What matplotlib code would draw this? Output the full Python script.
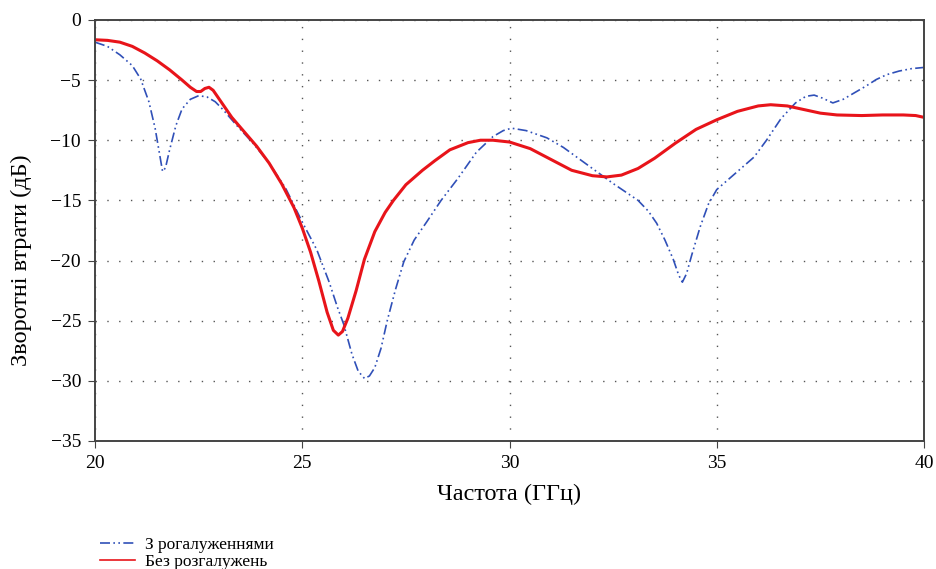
import matplotlib.pyplot as plt

plt.rcParams['font.family'] = ['Liberation Serif', 'DejaVu Serif']

# З рогалуженнями (blue, dash-dot-dot)
freq_a = [20.0, 20.3, 20.6, 20.9, 21.1, 21.3, 21.45, 21.55, 21.63, 21.7, 21.8, 21.95,
          22.1, 22.3, 22.5, 22.7, 22.9, 23.1, 23.4, 23.8, 24.2, 24.6, 25.0, 25.35,
          25.65, 25.85, 26.0, 26.2, 26.35, 26.5, 26.62, 26.75, 26.9, 27.05, 27.25, 27.45,
          27.7, 28.0, 28.35, 28.75, 29.2, 29.6, 29.85, 30.05, 30.4, 30.9, 31.3, 31.7,
          32.1, 32.5, 32.8, 33.1, 33.35, 33.55, 33.75, 33.95, 34.08, 34.17, 34.27, 34.4,
          34.6, 34.8, 35.0, 35.4, 35.9, 36.2, 36.55, 36.9, 37.15, 37.35, 37.55, 37.8,
          38.05, 38.3, 38.6, 38.85, 39.1, 39.4, 39.7, 40.0]
s11_a = [-1.85, -2.2, -2.9, -3.8, -4.9, -6.8, -9.0, -11.0, -12.6, -12.3, -10.8, -8.8,
         -7.4, -6.6, -6.3, -6.4, -6.8, -7.5, -8.7, -10.2, -11.9, -14.0, -16.8, -19.1,
         -21.8, -23.9, -25.3, -27.8, -29.2, -29.8, -29.6, -28.9, -27.3, -25.0, -22.4, -20.1,
         -18.3, -16.8, -15.0, -13.2, -11.0, -9.7, -9.2, -9.0, -9.2, -9.8, -10.6, -11.6,
         -12.6, -13.6, -14.3, -15.0, -15.9, -16.9, -18.3, -19.9, -21.2, -21.8, -21.1, -19.5,
         -17.2, -15.3, -14.1, -12.9, -11.4, -10.0, -8.2, -6.9, -6.35, -6.25, -6.5, -6.9,
         -6.6, -6.1, -5.5, -4.95, -4.55, -4.25, -4.05, -3.95]

# Без розгалужень (red, solid)
freq_b = [20.0, 20.3, 20.6, 20.9, 21.2, 21.5, 21.8, 22.1, 22.3, 22.45, 22.55, 22.65,
          22.75, 22.85, 23.0, 23.3, 23.6, 23.9, 24.2, 24.5, 24.8, 25.0, 25.2, 25.4,
          25.6, 25.75, 25.87, 25.97, 26.1, 26.3, 26.5, 26.75, 27.0, 27.2, 27.5, 27.9,
          28.2, 28.56, 29.0, 29.3, 29.6, 30.0, 30.5, 31.0, 31.5, 32.0, 32.35, 32.7,
          33.1, 33.5, 34.0, 34.5, 35.0, 35.5, 36.0, 36.3, 36.7, 37.1, 37.5, 37.9,
          38.5, 39.0, 39.5, 39.8, 40.0]
s11_b = [-1.65, -1.7, -1.85, -2.2, -2.75, -3.4, -4.15, -5.0, -5.6, -5.95, -5.95, -5.7,
         -5.6, -5.85, -6.6, -8.1, -9.3, -10.5, -11.9, -13.6, -15.6, -17.3, -19.3, -21.7,
         -24.3, -25.8, -26.2, -25.9, -24.8, -22.5, -19.9, -17.6, -16.0, -15.0, -13.7, -12.5,
         -11.7, -10.8, -10.2, -10.0, -10.0, -10.15, -10.7, -11.6, -12.5, -12.95, -13.05, -12.9,
         -12.35, -11.5, -10.25, -9.1, -8.3, -7.6, -7.15, -7.05, -7.15, -7.45, -7.75, -7.9,
         -7.95, -7.9, -7.9, -7.95, -8.1]

xticks = [20, 25, 30, 35, 40]
yticks = [0, -5, -10, -15, -20, -25, -30, -35]

fig = plt.figure(figsize=(9.36, 5.69), dpi=100)
ax = fig.add_axes([0.1015, 0.225, 0.8857, 0.740])

ax.plot(freq_a, s11_a, color='#3050b8', lw=1.2, dashes=(6, 2, 1, 2, 1, 2),
        label='З рогалуженнями')
ax.plot(freq_b, s11_b, color='#e8141a', lw=2.2, label='Без розгалужень')

ax.set_xlim(20, 40)
ax.set_ylim(-35, 0)
ax.set_xticks(xticks)
ax.set_yticks(yticks)
ax.set_yticklabels(['0', '−5', '−10', '−15', '−20', '−25', '−30', '−35'])
ax.tick_params(labelsize=14, direction='out', length=5, color='#444444', pad=5)
ax.grid(True, color='#555555', linestyle=(0, (1, 7.5)), linewidth=1.0)
for s in ax.spines.values():
    s.set_color('#444444')
    s.set_linewidth(1.4)

ax.set_xlabel('Частота (ГГц)', fontsize=17.5)
ax.set_ylabel('Зворотні втрати (дБ)', fontsize=17.5)
ax.xaxis.set_label_coords(0.5, -0.102)
ax.yaxis.set_label_coords(-0.076, 0.43)

leg = fig.legend(loc='lower left', bbox_to_anchor=(0.09, -0.03), frameon=False,
                 fontsize=12.5, handlelength=2.0, handletextpad=0.6, labelspacing=0.05)
for ln in leg.get_lines():
    ln.set_linewidth(1.2)

fig.savefig('out.png', dpi=100)
